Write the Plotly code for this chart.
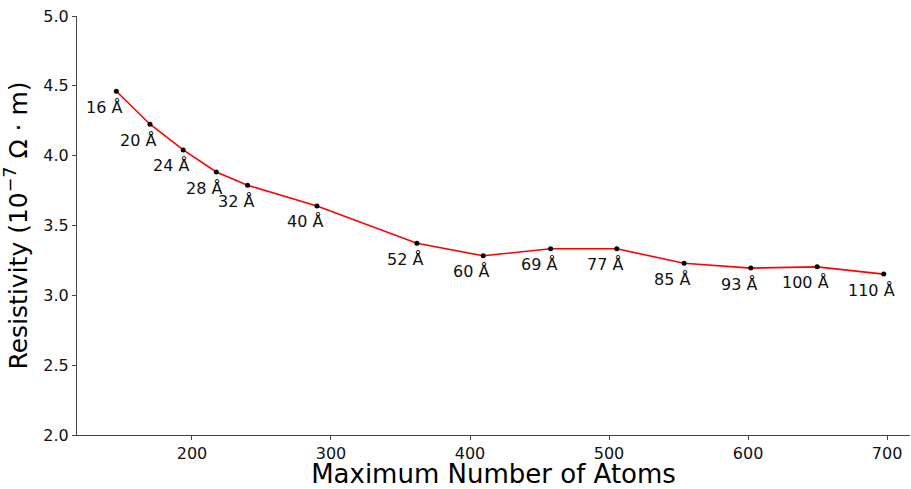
import plotly.graph_objects as go

atoms = [145.6, 169.8, 193.7, 217.5, 240.0, 289.9, 361.8, 409.5, 458.0, 505.6, 554.0, 602.0, 649.7, 697.6]
resistivity = [4.461, 4.225, 4.041, 3.883, 3.788, 3.640, 3.373, 3.283, 3.333, 3.333, 3.230, 3.195, 3.204, 3.152]
size_labels = ["16 Å", "20 Å", "24 Å", "28 Å", "32 Å", "40 Å", "52 Å", "60 Å", "69 Å", "77 Å", "85 Å", "93 Å", "100 Å", "110 Å"]
x_ticks = [200, 300, 400, 500, 600, 700]
y_ticks = [2.0, 2.5, 3.0, 3.5, 4.0, 4.5, 5.0]

FONT = "DejaVu Sans"

fig = go.Figure()
fig.add_trace(go.Scatter(
    x=atoms, y=resistivity, mode="lines+markers",
    line=dict(color="red", width=1.6),
    marker=dict(color="black", size=5),
    showlegend=False, hoverinfo="skip",
))

for xv, yv, lab in zip(atoms, resistivity, size_labels):
    fig.add_annotation(x=xv, y=yv, text=lab, showarrow=False,
                       xshift=-12, yshift=-16,
                       font=dict(family=FONT, size=16, color="#111"))

axis_common = dict(
    showline=True, linecolor="#444", linewidth=1,
    ticks="outside", ticklen=4, tickcolor="#444", tickwidth=1,
    showgrid=False, zeroline=False,
    tickfont=dict(family=FONT, size=16, color="#111"),
    automargin=False,
)

fig.update_xaxes(range=[117.3, 716.5], tickvals=x_ticks,
                 title=dict(text="Maximum Number of Atoms", standoff=9,
                            font=dict(family=FONT, size=26, color="black")),
                 **axis_common)
fig.update_yaxes(range=[2.0, 5.0], tickvals=y_ticks, tickformat=".1f",
                 title=dict(text="Resistivity (10<sup>−7</sup> Ω · m)", standoff=10,
                            font=dict(family=FONT, size=25, color="black")),
                 **axis_common)

fig.update_layout(
    width=911, height=489,
    margin=dict(l=77, r=1, t=16, b=54),
    paper_bgcolor="white", plot_bgcolor="white",
    font=dict(family=FONT),
)

fig.write_html("out.html")
